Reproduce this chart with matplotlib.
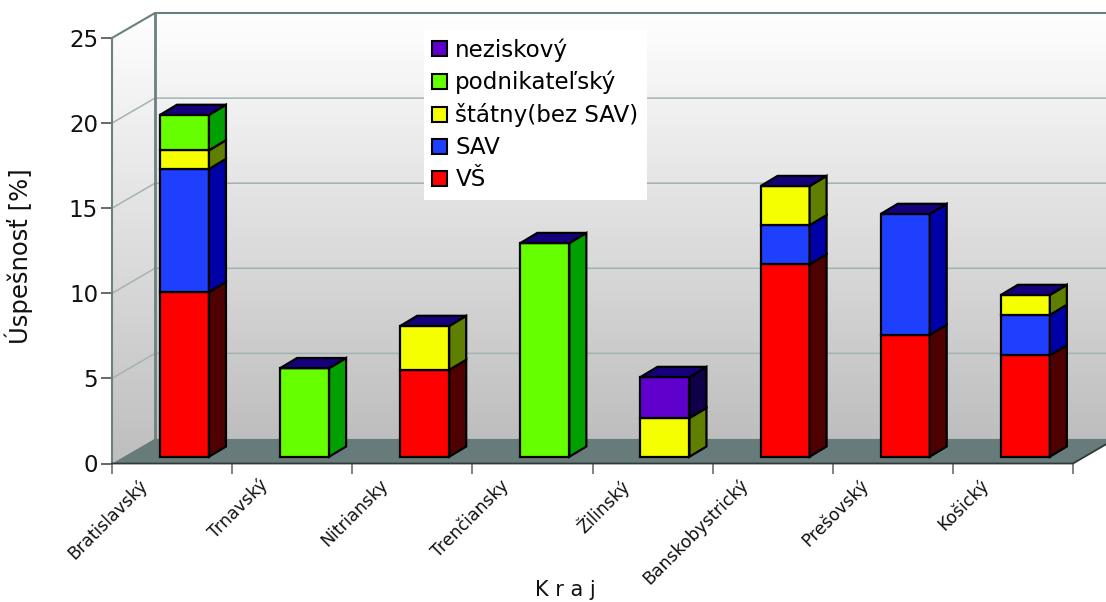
import numpy as np
import matplotlib
matplotlib.use('Agg')
import matplotlib.pyplot as plt
from matplotlib.patches import Polygon, Patch

plt.rcParams['font.family'] = ['DejaVu Sans']

# Data
categories = ['Bratislavský', 'Trnavský', 'Nitriansky', 'Trenčiansky', 'Žilinský',
              'Banskobystrický', 'Prešovský', 'Košický']
vs = [9.67, 0, 5.1, 0, 0, 11.3, 7.15, 5.95]
sav = [7.23, 0, 0, 0, 0, 2.3, 7.11, 2.38]
statny = [1.1, 0, 2.58, 0, 2.27, 2.3, 0, 1.17]
podnikatelsky = [2.08, 5.2, 0, 12.55, 0, 0, 0, 0]
neziskovy = [0, 0, 0, 0, 2.41, 0, 0, 0]
y_ticks = [0, 5, 10, 15, 20, 25]

# name, values, front colour, side colour (bottom to top)
series = [('VŠ', vs, '#ff0000', '#4f0000'),
          ('SAV', sav, '#1f3fff', '#0000a8'),
          ('štátny(bez SAV)', statny, '#f5ff00', '#5f7f00'),
          ('podnikateľský', podnikatelsky, '#66ff00', '#00a000'),
          ('neziskový', neziskovy, '#5f00cc', '#10004a')]
top_color = '#14007a'
wall_line = '#6b8080'
grid_line = '#a3b3b0'
floor_color = '#677b7b'

W, H = 1106, 602
fig = plt.figure(figsize=(W / 100, H / 100), dpi=100)
# front plane: x 0..8 -> 112..1073 px, y 0..25 -> 463.5..38 px
ax = fig.add_axes([112 / W, 1 - 463.5 / H, (1073 - 112) / W, (463.5 - 38) / H])
ax.patch.set_visible(False)
for s in ax.spines.values():
    s.set_visible(False)

# depth of the fake 3D box, in data units
px_x = 961 / 8
px_y = 425.5 / 25
dx = 43 / px_x
dy = 25 / px_y

# walls with a grey gradient, white at the top
grad = np.linspace(1, 0.745, 256).reshape(-1, 1)
wall = np.repeat(grad[..., None], 3, axis=2)
back = ax.imshow(wall, extent=(dx, 8 + dx, dy, 25 + dy), aspect='auto', zorder=1)
back.set_clip_box(fig.bbox)
left = ax.imshow(wall, extent=(0, dx, 0, 25 + dy), aspect='auto', zorder=1)
left.set_clip_path(Polygon([(0, 0), (dx, dy), (dx, 25 + dy), (0, 25)], transform=ax.transData))
left.set_clip_box(fig.bbox)
ax.set_xlim(0, 8)
ax.set_ylim(0, 25)

# gridlines on both walls
for v in y_ticks[1:-1]:
    ax.plot([0, dx, 8 + dx], [v, v + dy, v + dy], color=grid_line, lw=1.1, zorder=2, clip_on=False)
ax.plot([0, dx, 8 + dx], [25, 25 + dy, 25 + dy], color=wall_line, lw=1.5, zorder=2, clip_on=False)
ax.plot([dx, dx], [dy, 25 + dy], color=wall_line, lw=2, zorder=2, clip_on=False)
ax.plot([0, 0], [0, 25], color=wall_line, lw=1.5, zorder=2, clip_on=False)

# floor
ax.add_patch(Polygon([(0, 0), (8, 0), (8 + dx, dy), (dx, dy)], facecolor=floor_color,
                     edgecolor='none', zorder=2, clip_on=False))
ax.plot([0, 8, 8 + dx], [0, 0, dy], color='#303838', lw=1.3, zorder=3, clip_on=False)

# stacked bars with side and top faces
bar_w = 49 / px_x
d0x, d0y = 12.4 / px_x, 6.8 / px_y
d1x, d1y = 17 / px_x, 10.2 / px_y
z = 4
for i in range(len(categories)):
    xl = i + 0.5 + d0x - bar_w / 2
    xr = xl + bar_w
    bottom = d0y
    for name, vals, col, side in series:
        v = vals[i]
        if v == 0:
            continue
        ax.bar(xl, v, bottom=bottom, width=bar_w, align='edge', color=col, edgecolor='black',
               linewidth=1.6, zorder=z, clip_on=False)
        ax.add_patch(Polygon([(xr, bottom), (xr + d1x, bottom + d1y), (xr + d1x, bottom + v + d1y), (xr, bottom + v)],
                             facecolor=side, edgecolor='black', linewidth=1.6, zorder=z, clip_on=False))
        bottom += v
    ax.add_patch(Polygon([(xl, bottom), (xr, bottom), (xr + d1x, bottom + d1y), (xl + d1x, bottom + d1y)],
                         facecolor=top_color, edgecolor='black', linewidth=1.6, zorder=z, clip_on=False))
    z += 1

# axes ticks and labels
ax.set_yticks(y_ticks)
ax.set_xticks(range(9))
ax.set_xticklabels([])
ax.tick_params(axis='y', length=8, width=1.1, color='#404040', labelsize=16.5, pad=2, labelcolor='#111111')
ax.tick_params(axis='x', length=7.5, width=1.1, color='#606060')

for i, cat in enumerate(categories):
    ax.annotate(cat, (i + 0.5, 0), xytext=(-24, -9), textcoords='offset points', rotation=45,
                ha='right', va='top', rotation_mode='anchor', fontsize=12.4, color='#111111')

fig.text(565 / W, 1 - 590 / H, 'K r a j', fontsize=15, ha='center', va='center', color='#111111')
fig.text(19 / W, 1 - 256 / H, 'Úspešnosť [%]', fontsize=17.5, rotation=90, ha='center', va='center', color='#111111')

# legend, top entry first like the original
handles = [Patch(facecolor=c, edgecolor='black', linewidth=1.5, label=n) for n, _, c, _ in series[::-1]]
leg = fig.legend(handles=handles, loc='upper left', bbox_to_anchor=(424 / W, 1 - 30 / H), bbox_transform=fig.transFigure,
                 frameon=True, fancybox=False, framealpha=1, edgecolor='none', facecolor='white', fontsize=16.6,
                 handlelength=0.62, handleheight=0.62, handletextpad=0.38, labelspacing=0.39, borderpad=0.36,
                 borderaxespad=0)
leg.set_zorder(20)

fig.savefig('out.png', dpi=100)
